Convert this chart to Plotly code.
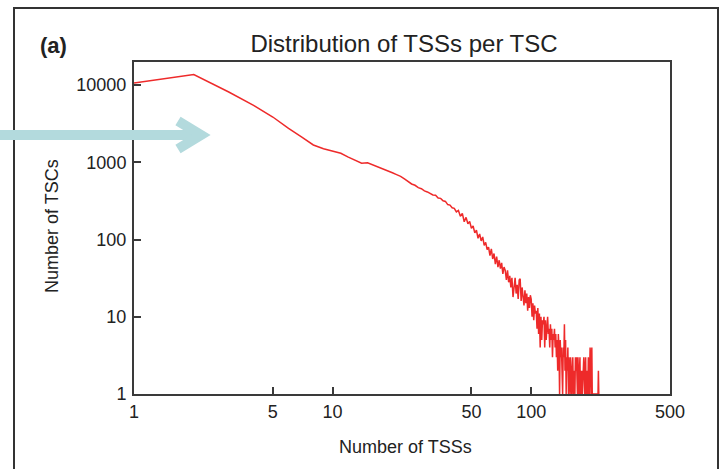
import plotly.graph_objects as go

# Number of TSCs for each number of TSSs (x = 1, 2, 3, ...)
tsc_counts = [
    10650, 13700, 8150, 5480, 3870, 2750, 2130, 1680, 1500, 1400,
    1310, 1170, 1060, 975, 990, 930, 872, 815, 780, 735,
    695, 660, 610, 565, 525, 505, 470, 456, 428, 414,
    400, 378, 375, 345, 342, 318, 312, 284, 280, 258,
    254, 228, 238, 200, 218, 170, 194, 160, 172, 140,
    150, 122, 132, 104, 118, 96, 108, 84, 92, 74,
    80, 62, 76, 56, 66, 48, 60, 44, 54, 42,
    50, 36, 44, 40, 30, 40, 28, 34, 24, 32,
    18, 28, 32, 20, 26, 17, 30, 31, 16, 24,
    19, 14, 22, 15, 20, 12, 18, 13, 19, 17,
    10, 15, 9, 14, 11, 12, 7, 13, 6, 11,
    4, 10, 5, 9, 8, 10, 4, 9, 5, 8,
    10, 6, 7, 4, 8, 5, 7, 3, 6, 5,
    7, 4, 6, 3, 5, 2, 6, 4, 1, 5,
    3, 4, 2, 1, 4, 3, 8, 2, 5, 1,
    3, 2, 4, 1, 3, 2, 1, 3, 2, 1,
    2, 3, 1, 2, 2, 1, 3, 2, 3, 2,
    1, 3, 2, 1, 2, 3, 1, 2, 1, 2,
    1, 2, 3, 3, 2, 1, 2, 3, 1, 2,
    1, 2, 1, 3, 2, 1, 2, 4, 3, 1,
    2, 4, 1, 1, 1, 1, 1, 1, 1, 1,
    1, 1, 1, 1, 1, 1, 1, 2, 1,
]
tss_numbers = list(range(1, len(tsc_counts) + 1))

x_tick_vals = [1, 5, 10, 50, 100, 500]
x_tick_text = ["1", "5", "10", "50", "100", "500"]
y_tick_vals = [1, 10, 100, 1000, 10000]
y_tick_text = ["1", "10", "100", "1000", "10000"]

title_text = "Distribution of TSSs per TSC"
x_title = "Number of TSSs"
y_title = "Number of TSCs"
panel_label = "(a)"

FONT = "Liberation Sans, Arial, Helvetica, sans-serif"
AX = "#3a3a3a"

fig = go.Figure()
fig.add_trace(go.Scatter(
    x=tss_numbers, y=tsc_counts, mode="lines",
    line=dict(color="#ee2a2a", width=1.5),
    hoverinfo="x+y", showlegend=False,
))

L, R, T, B = 134, 49, 62, 75
W, H = 719, 469
pw, ph = W - L - R, H - T - B


def px(xp):
    return (xp - L) / pw


def py(yp):
    return (H - B - yp) / ph


fig.update_layout(
    width=W, height=H,
    margin=dict(l=L, r=R, t=T, b=B, pad=0),
    paper_bgcolor="white", plot_bgcolor="white",
    font=dict(family=FONT, color="#222", size=18),
    title=dict(text=title_text, x=px(404), xref="paper", xanchor="center",
               y=1 - 44 / H, yanchor="middle", font=dict(size=24, color="#222")),
    showlegend=False,
)
fig.update_xaxes(
    type="log", range=[0, 2.69897], tickvals=x_tick_vals, ticktext=x_tick_text,
    ticks="inside", ticklen=7, tickwidth=1.5, tickcolor=AX,
    showline=True, linecolor=AX, linewidth=2, mirror=True,
    showgrid=False, zeroline=False, tickfont=dict(size=18, color="#222"),
    ticklabelstandoff=0,
)
fig.update_yaxes(
    type="log", range=[0, 4.3], tickvals=y_tick_vals, ticktext=y_tick_text,
    ticks="inside", ticklen=7, tickwidth=1.5, tickcolor=AX,
    showline=True, linecolor=AX, linewidth=2, mirror=True,
    showgrid=False, zeroline=False, tickfont=dict(size=18, color="#222"),
    ticklabelstandoff=2,
)

# axis titles and panel label
fig.add_annotation(text=x_title, xref="paper", yref="paper", x=px(405), y=py(447),
                   showarrow=False, font=dict(size=18, color="#222"),
                   xanchor="center", yanchor="middle")
fig.add_annotation(text=y_title, xref="paper", yref="paper", x=px(52), y=py(226),
                   showarrow=False, textangle=-90, font=dict(size=18, color="#222"),
                   xanchor="center", yanchor="middle")
fig.add_annotation(text="<b>" + panel_label + "</b>", xref="paper", yref="paper",
                   x=px(53), y=py(45), showarrow=False,
                   font=dict(size=22, color="#222"), xanchor="center", yanchor="middle")

# outer panel frame
fig.add_shape(type="rect", xref="paper", yref="paper",
              x0=px(14), x1=px(718), y0=py(520), y1=py(8),
              line=dict(color="#333", width=2), layer="below")

# teal arrow
ARC = "#b3dadd"
fig.add_shape(type="line", xref="paper", yref="paper",
              x0=px(-5), x1=px(198), y0=py(135), y1=py(135),
              line=dict(color=ARC, width=10))
fig.add_shape(type="path", xref="paper", yref="paper",
              path="M {},{} L {},{} L {},{}".format(px(178), py(121), px(201), py(135),
                                                    px(178), py(149)),
              line=dict(color=ARC, width=10))

fig.write_html("out.html")
